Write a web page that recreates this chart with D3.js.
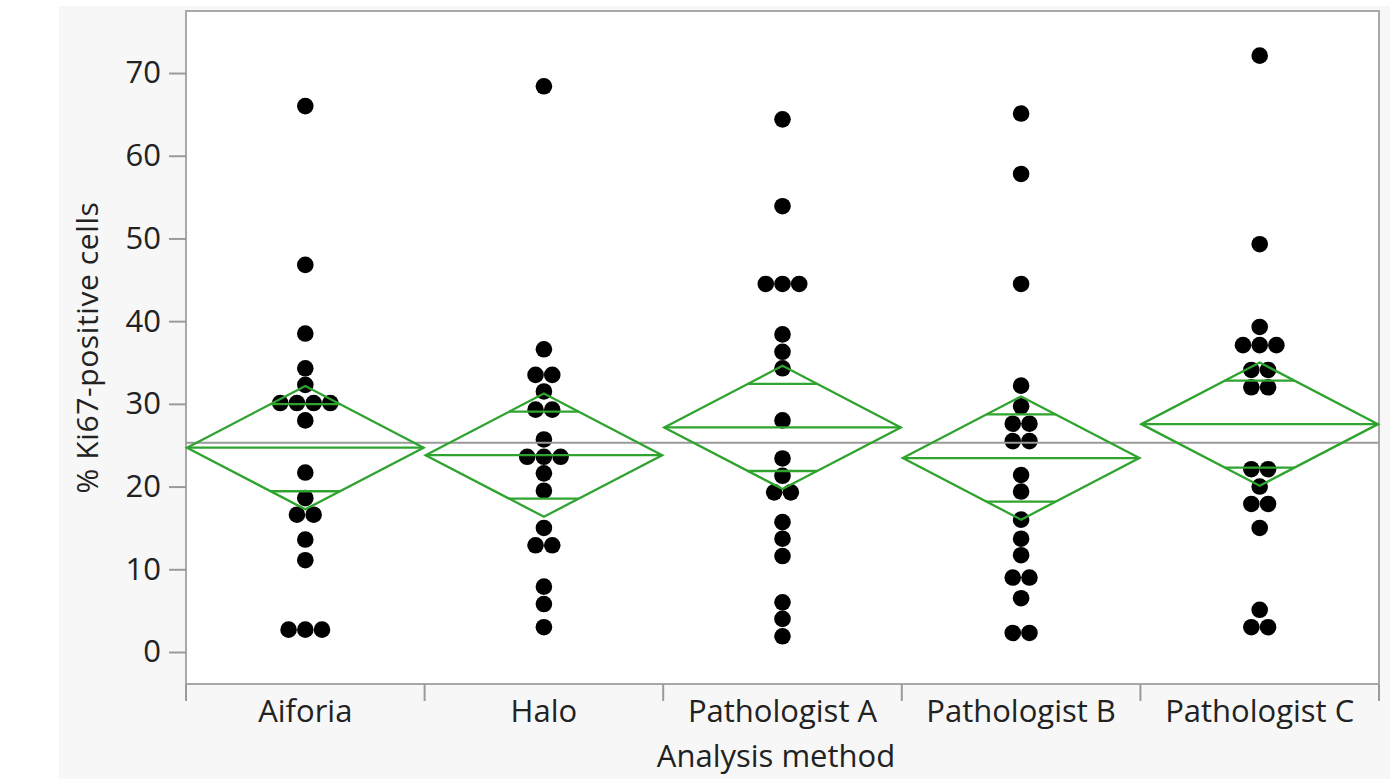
<!DOCTYPE html>
<html>
<head>
<meta charset="utf-8">
<script src="https://cdn.jsdelivr.net/npm/d3@7"></script>
<style>
  body { margin: 0; background: #ffffff; }
  text { font-family: "Open Sans", sans-serif; fill: #222; }
</style>
</head>
<body>
<svg id="chart" width="1390" height="779"></svg>
<script>
// values
var categories = ["Aiforia", "Halo", "Pathologist A", "Pathologist B", "Pathologist C"];

var aiforiaValues = [66.0, 46.8, 38.5, 34.3, 32.3, 30.1, 30.1, 30.1, 30.1, 28.0, 21.7, 18.6, 16.6, 16.6, 13.6, 11.1, 2.7, 2.7, 2.7];
var haloValues = [68.4, 36.6, 33.5, 33.5, 31.5, 29.3, 29.3, 25.7, 23.6, 23.6, 23.6, 21.6, 19.5, 15.0, 12.9, 12.9, 7.9, 5.8, 3.0];
var pathAValues = [64.4, 53.9, 44.5, 44.5, 44.5, 38.4, 36.3, 34.3, 28.0, 23.4, 21.3, 19.3, 19.3, 15.7, 13.7, 11.6, 6.0, 4.0, 1.9];
var pathBValues = [65.1, 57.8, 44.5, 32.2, 29.7, 27.6, 27.6, 25.5, 25.5, 21.4, 19.4, 16.0, 13.7, 11.7, 9.0, 9.0, 6.5, 2.3, 2.3];
var pathCValues = [72.1, 49.3, 39.3, 37.1, 37.1, 37.1, 34.1, 34.1, 32.0, 32.0, 22.1, 22.1, 20.0, 17.9, 17.9, 15.0, 5.1, 3.0, 3.0];

// means diamonds (group mean and 95% CI)
var groupMeans = [24.7, 23.8, 27.15, 23.45, 27.55];
var ciLower = [17.25, 16.35, 19.7, 16.0, 20.1];
var ciUpper = [32.15, 31.25, 34.6, 30.9, 35.0];
var grandMean = 25.3;

var yTicks = [0, 10, 20, 30, 40, 50, 60, 70];

var groupValues = [aiforiaValues, haloValues, pathAValues, pathBValues, pathCValues];

var svg = d3.select("#chart");

var plotLeft = 186, plotRight = 1379, plotTop = 11, plotBottom = 684;

// light gray frame behind everything
svg.append("rect")
    .attr("x", 59).attr("y", 6)
    .attr("width", 1390 - 59).attr("height", 779 - 6)
    .attr("fill", "#f7f7f7");

svg.append("rect")
    .attr("x", plotLeft).attr("y", plotTop)
    .attr("width", plotRight - plotLeft).attr("height", plotBottom - plotTop)
    .attr("fill", "#ffffff")
    .style("stroke", "#a8a8a8")
    .style("stroke-width", 2);

var x = d3.scaleBand().domain(categories).range([plotLeft, plotRight]).padding(0);
var y = d3.scaleLinear().domain([-3.87, 77.5]).range([plotBottom, plotTop]);

// y axis
var yAxis = svg.append("g")
    .attr("transform", "translate(" + plotLeft + ",0)")
    .call(d3.axisLeft(y).tickValues(yTicks).tickSize(17).tickPadding(8).tickFormat(d3.format("d")));
yAxis.select(".domain").remove();
yAxis.selectAll(".tick line").attr("stroke", "#9a9a9a").attr("stroke-width", 2);
yAxis.selectAll(".tick text")
    .style("font-family", "'Open Sans', sans-serif")
    .attr("font-size", "31px")
    .attr("fill", "#222");

svg.append("text")
    .attr("transform", "translate(98," + ((plotTop + plotBottom) / 2) + ") rotate(-90)")
    .attr("text-anchor", "middle")
    .attr("font-size", "30px")
    .attr("letter-spacing", "0.6px")
    .attr("fill", "#333")
    .text("% Ki67-positive cells");

// x axis: separators at band edges
var edges = categories.map(function(c) { return x(c); }).concat([plotRight]);
svg.append("g").selectAll("line")
    .data(edges)
    .enter().append("line")
    .attr("x1", function(d) { return d; }).attr("x2", function(d) { return d; })
    .attr("y1", plotBottom).attr("y2", plotBottom + 17)
    .attr("stroke", "#9a9a9a").attr("stroke-width", 2);

svg.append("g").selectAll("text")
    .data(categories)
    .enter().append("text")
    .attr("x", function(d) { return x(d) + x.bandwidth() / 2; })
    .attr("y", 722)
    .attr("text-anchor", "middle")
    .attr("font-size", "31px")
    .text(function(d) { return d; });

svg.append("text")
    .attr("x", 776).attr("y", 767)
    .attr("text-anchor", "middle")
    .attr("font-size", "31px")
    .text("Analysis method");

// points, equal values laid side by side
var dotR = 8.3, dotStep = 16.7;
var points = [];
groupValues.forEach(function(vals, gi) {
  var counts = d3.rollup(vals, function(v) { return v.length; }, function(d) { return d; });
  var seen = new Map();
  vals.forEach(function(v) {
    var n = counts.get(v), k = seen.get(v) || 0;
    seen.set(v, k + 1);
    points.push({ cat: categories[gi], value: v, offset: (k - (n - 1) / 2) * dotStep });
  });
});

svg.append("g").selectAll("circle")
    .data(points)
    .enter().append("circle")
    .attr("cx", function(d) { return x(d.cat) + x.bandwidth() / 2 + d.offset; })
    .attr("cy", function(d) { return y(d.value); })
    .attr("r", dotR)
    .attr("fill", "#000");

// grand mean line
svg.append("line")
    .attr("x1", plotLeft).attr("x2", plotRight)
    .attr("y1", y(grandMean)).attr("y2", y(grandMean))
    .attr("stroke", "#9a9a9a").attr("stroke-width", 2);

// means diamonds
var green = "#2ea32e";
var dg = svg.append("g").attr("fill", "none").attr("stroke", green).attr("stroke-width", 2.3);
categories.forEach(function(c, i) {
  var x0 = x(c) + 1, x1 = x(c) + x.bandwidth() - 1, xc = (x0 + x1) / 2;
  var m = groupMeans[i], lo = ciLower[i], hi = ciUpper[i];
  var half = (hi - lo) / 2;
  dg.append("path")
    .attr("d", "M" + x0 + "," + y(m) + "L" + xc + "," + y(hi) + "L" + x1 + "," + y(m) + "L" + xc + "," + y(lo) + "Z");
  dg.append("line")
    .attr("x1", x0).attr("x2", x1).attr("y1", y(m)).attr("y2", y(m));
  // overlap marks
  var off = half / Math.SQRT2;
  [m + off, m - off].forEach(function(v) {
    var w = (x1 - x0) / 2 * (1 - Math.abs(v - m) / half);
    dg.append("line")
      .attr("x1", xc - w).attr("x2", xc + w)
      .attr("y1", y(v)).attr("y2", y(v));
  });
});
</script>
</body>
</html>
